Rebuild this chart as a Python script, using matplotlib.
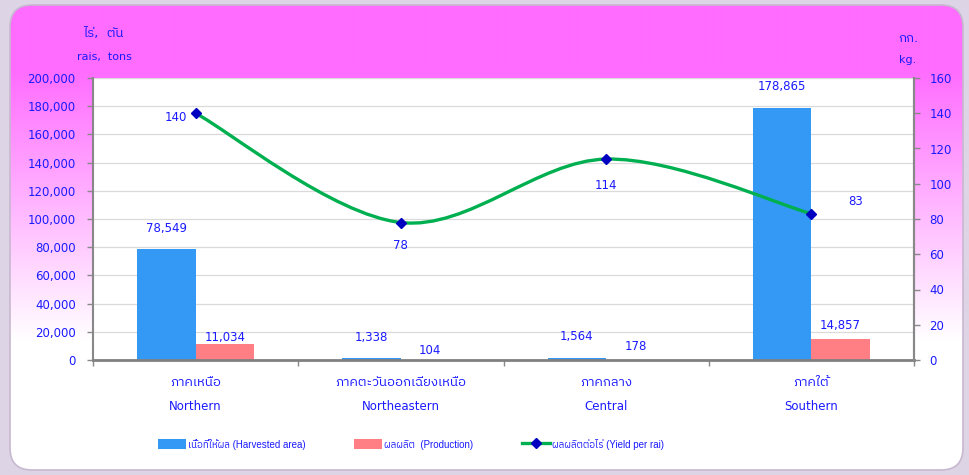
import numpy as np
import matplotlib
matplotlib.use("Agg")
import matplotlib.pyplot as plt
from matplotlib import font_manager as fm
from matplotlib.patches import FancyBboxPatch, Patch
from matplotlib.lines import Line2D
from matplotlib.path import Path
from matplotlib.patches import PathPatch

# ---------------- data ----------------
cats_th = ["ภาคเหนือ", "ภาคตะวันออกเฉียงเหนือ", "ภาคกลาง", "ภาคใต้"]
cats_en = ["Northern", "Northeastern", "Central", "Southern"]
harvested = [78549, 1338, 1564, 178865]
production = [11034, 104, 178, 14857]
yield_per_rai = [140, 78, 114, 83]
left_ticks = list(range(0, 200001, 20000))
right_ticks = list(range(0, 161, 20))
legend_labels = ["เนื้อที่ให้ผล (Harvested area)", "ผลผลิต  (Production)", "ผลผลิตต่อไร่ (Yield per rai)"]

# ---------------- fonts ----------------
def find_thai_font():
    try:
        from fontTools.ttLib import TTFont
    except Exception:
        return None
    cands = []
    for f in fm.findSystemFonts():
        try:
            tt = TTFont(f, fontNumber=0, lazy=True)
            cmap = tt.getBestCmap()
            if cmap and 0x0E20 in cmap and 0x0E40 in cmap and 0x0E49 in cmap:
                cands.append(f)
        except Exception:
            pass
    if not cands:
        return None
    def score(p):
        n = p.lower()
        s = 0
        if "sans" in n: s -= 2
        if "bold" in n or "italic" in n or "oblique" in n: s += 5
        if "mono" in n or ("serif" in n and "sans" not in n): s += 3
        return s
    cands.sort(key=score)
    f = cands[0]
    try:
        fm.fontManager.addfont(f)
    except Exception:
        pass
    return fm.FontProperties(fname=f).get_name()

def has_font(name):
    try:
        fm.findfont(fm.FontProperties(family=name), fallback_to_default=False)
        return True
    except Exception:
        return False

thai = find_thai_font()
extra = [thai] if thai else []
families = ["DejaVu Sans"] + extra
plt.rcParams["font.family"] = families

TXT = "#1a1aff"
FS = 8.5
FS_TH = 9.5

W, H = 969, 475
fig = plt.figure(figsize=(W / 100, H / 100), dpi=100)
fig.patch.set_facecolor("#ddd4e6")

# ---------------- background ----------------
bg = fig.add_axes([0, 0, 1, 1], zorder=-10)
bg.set_xlim(0, W)
bg.set_ylim(H, 0)
bg.axis("off")
ys = np.arange(H)
t = np.clip((ys - 70) / 270.0, 0, 1)
col = np.zeros((H, 1, 3))
col[:, 0, 0] = 1.0
col[:, 0, 1] = (108 + t * 147) / 255
col[:, 0, 2] = 1.0
img = np.repeat(col, 4, axis=1)
im = bg.imshow(img, extent=[0, W, H, 0], aspect="auto", interpolation="bilinear")
box = FancyBboxPatch((10, 5), 953, 465, boxstyle="round,pad=0,rounding_size=22",
                     transform=bg.transData, facecolor="none", edgecolor="#c8b8d0", lw=1.2)
bg.add_patch(box)
im.set_clip_path(box)

# ---------------- main axes ----------------
ax = fig.add_axes([93 / W, 1 - 360 / H, (914 - 93) / W, (360 - 78) / H])
ax.set_facecolor("white")
x = np.arange(len(cats_en))
bw = 0.285
ax.bar(x - bw / 2, harvested, bw, color="#3399f5", zorder=2)
ax.bar(x + bw / 2, production, bw, color="#ff7f84", zorder=2)

ax.set_xlim(-0.5, len(cats_en) - 0.5)
ax.set_ylim(0, 200000)
ax.set_yticks(left_ticks)
ax.set_yticklabels([f"{v:,}" for v in left_ticks], color=TXT, fontsize=FS)
ax.yaxis.grid(True, color="#dadada", lw=0.9)
ax.set_axisbelow(True)
ax.tick_params(axis="y", length=4, width=1, color="#888888", pad=8.5)
ax.set_xticks(np.arange(-0.5, len(cats_en), 1.0))
ax.set_xticklabels([])
ax.tick_params(axis="x", length=4, width=1, color="#888888", direction="out")
ax.spines["top"].set_visible(False)
ax.spines["left"].set_color("#888888")
ax.spines["left"].set_linewidth(1.5)
ax.spines["right"].set_color("#888888")
ax.spines["right"].set_linewidth(1.5)
ax.spines["bottom"].set_color("#808080")
ax.spines["bottom"].set_linewidth(2)

trans = ax.get_xaxis_transform()
for i in range(len(cats_en)):
    ax.text(x[i], -23 / 282, cats_th[i], transform=trans, ha="center", va="center",
            color=TXT, fontsize=FS_TH)
    ax.text(x[i], -47 / 282, cats_en[i], transform=trans, ha="center", va="center",
            color=TXT, fontsize=FS)

# bar labels
red_off = [7, 9, 13, 14]
for i in range(len(cats_en)):
    ax.annotate(f"{harvested[i]:,}", (x[i] - bw / 2, harvested[i]), xytext=(0, 21),
                textcoords="offset pixels", ha="center", va="center", color=TXT, fontsize=FS)
    ax.annotate(f"{production[i]:,}", (x[i] + bw / 2, production[i]), xytext=(0, red_off[i]),
                textcoords="offset pixels", ha="center", va="center", color=TXT, fontsize=FS)

# ---------------- secondary axis ----------------
ax2 = ax.twinx()
ax2.set_ylim(0, 160)
ax2.set_yticks(right_ticks)
ax2.set_yticklabels([str(v) for v in right_ticks], color=TXT, fontsize=FS)
ax2.tick_params(axis="y", length=4, width=1, color="#888888", pad=7)
for s in ["top", "left", "bottom"]:
    ax2.spines[s].set_visible(False)
ax2.spines["right"].set_color("#888888")
ax2.spines["right"].set_linewidth(1.5)

# smoothed line (Catmull-Rom style Bezier through the data points)
px = np.asarray(x, dtype=float)
py = np.asarray(yield_per_rai, dtype=float)
verts = [(px[0], py[0])]
codes = [Path.MOVETO]
n = len(px)
for i in range(n - 1):
    p0 = np.array([px[max(i - 1, 0)], py[max(i - 1, 0)]])
    p1 = np.array([px[i], py[i]])
    p2 = np.array([px[i + 1], py[i + 1]])
    p3 = np.array([px[min(i + 2, n - 1)], py[min(i + 2, n - 1)]])
    c1 = p1 + (p2 - p0) / 6.0
    c2 = p2 - (p3 - p1) / 6.0
    verts += [tuple(c1), tuple(c2), tuple(p2)]
    codes += [Path.CURVE4] * 3
ax2.add_patch(PathPatch(Path(verts, codes), facecolor="none", edgecolor="#00b050",
                        lw=2.4, zorder=3, capstyle="round"))
ax2.plot(px, py, linestyle="none", marker="D", markersize=5, color="#0000c0", zorder=4)

line_off = [(-20, -4), (0, -23), (0, -26), (44, 12)]
for i in range(n):
    ax2.annotate(str(yield_per_rai[i]), (px[i], py[i]), xytext=line_off[i],
                 textcoords="offset pixels", ha="center", va="center", color=TXT, fontsize=FS)

# unit labels
fig.text(103 / W, 1 - 33 / H, "ไร่,  ตัน", ha="center", va="center", color=TXT, fontsize=FS_TH)
fig.text(104 / W, 1 - 57 / H, "rais,  tons", ha="center", va="center", color=TXT, fontsize=8)
fig.text(908 / W, 1 - 38 / H, "กก.", ha="center", va="center", color=TXT, fontsize=FS_TH)
fig.text(908 / W, 1 - 60 / H, "kg.", ha="center", va="center", color=TXT, fontsize=8)

# legend
handles = [
    Patch(facecolor="#3399f5", edgecolor="none"),
    Patch(facecolor="#ff7f84", edgecolor="none"),
    Line2D([0], [0], color="#00b050", lw=2.4, marker="D", markersize=5,
           markerfacecolor="#0000c0", markeredgecolor="#0000c0"),
]
if has_font("Liberation Sans Narrow"):
    leg_font = fm.FontProperties(family=["Liberation Sans Narrow"] + extra, size=8.3)
    hl, cs = 2.45, 4.2
else:
    leg_font = fm.FontProperties(family=["Liberation Sans"] + extra, size=7)
    hl, cs = 2.9, 5.0
leg = fig.legend(handles, legend_labels, loc="center", bbox_to_anchor=(411 / W, 1 - 444 / H),
                 ncol=3, frameon=False, prop=leg_font, handlelength=hl, handleheight=1.2,
                 handletextpad=0.2, columnspacing=cs, numpoints=1)
for tx in leg.get_texts():
    tx.set_color(TXT)

fig.savefig("out.png", dpi=100, facecolor=fig.get_facecolor())
